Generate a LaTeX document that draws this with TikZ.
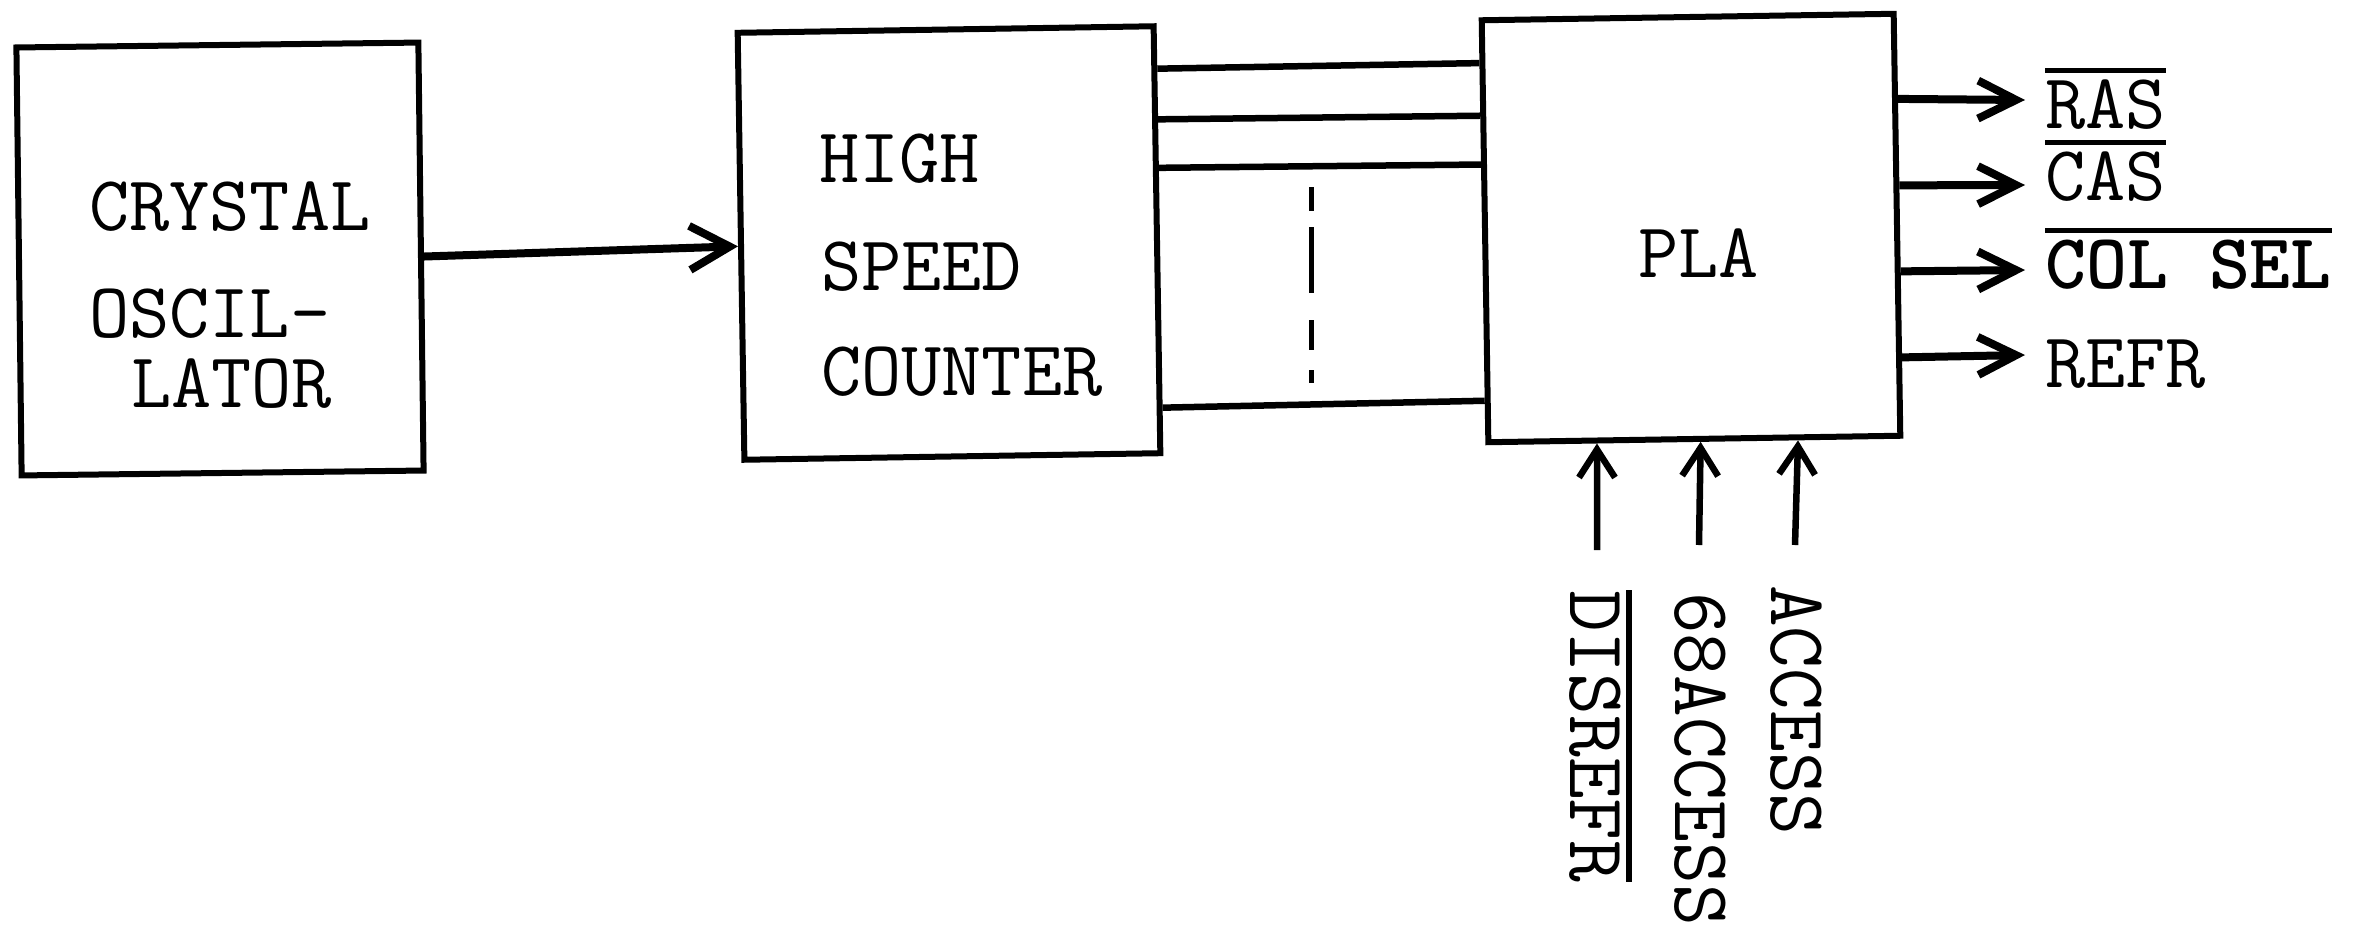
\documentclass[tikz,border=0pt]{standalone}
\usetikzlibrary{arrows.meta,calc}
\newcommand\myovl[1]{\leavevmode\setbox0\hbox{#1}\rlap{\rule[\dimexpr\ht0+6pt\relax]{\wd0}{5.5pt}}\box0}
\begin{document}
\begin{tikzpicture}[x=1pt,y=-1pt,
  box/.style={draw, line width=6pt, rectangle, inner sep=0pt},
  lbl/.style={anchor=base west, inner sep=0pt, font=\fontsize{78}{90}\selectfont\ttfamily},
  vlbl/.style={anchor=base west, inner sep=0pt, rotate=-90, font=\fontsize{81}{90}\selectfont\ttfamily},
  bigarr/.style={line width=8pt, -{Straight Barb[length=40pt,width=44pt]}},
  outarr/.style={line width=8pt, -{Straight Barb[length=38pt,width=38pt]}},
  inarr/.style={line width=6.5pt, -{Straight Barb[length=28pt,width=36pt]}},
  bus/.style={line width=6.5pt}]
\useasboundingbox (0,0) rectangle (2360,935);
% boxes
\node[box, rotate=0.7, minimum width=402pt, minimum height=428pt] (osc) at (220,259) {};
\node[box, rotate=0.9, minimum width=416pt, minimum height=427pt] (cnt) at (949,243) {};
\node[box, rotate=0.9, minimum width=412pt, minimum height=422pt] (pla) at (1691,228) {};
% box texts
\node[lbl] (t1) at (89,230) {CRYSTAL};
\node[lbl] (t2) at (89,337) {OSCIL-};
\node[lbl] (t3) at (131,407) {LATOR};
\node[lbl] (t4) at (819,182) {HIGH};
\node[lbl] (t5) at (821,290) {SPEED};
\node[lbl] (t6) at (821,395) {COUNTER};
\node[lbl] (t7) at (1638,277) {PLA};
% oscillator to counter
\draw[bigarr] (osc.east) -- (cnt.west);
% bus
\foreach \f/\g in {0.105/0.107, 0.222/0.23, 0.334/0.344, 0.888/0.896}
  \draw[bus] ($(cnt.north east)!\f!(cnt.south east)$) -- ($(pla.north west)!\g!(pla.south west)$);
\coordinate (d1) at (1311,187);
\coordinate (d2) at (1311,383);
\draw[line width=5pt, dash pattern=on 24pt off 16pt on 66pt off 27pt on 30pt off 20pt on 13pt off 100pt] (d1) -- (d2);
% outputs
\coordinate (o1) at (2025,100);
\coordinate (o2) at (2025,185);
\coordinate (o3) at (2025,270);
\coordinate (o4) at (2025,355);
\draw[outarr] ($(pla.north east)!0.206!(pla.south east)$) -- (o1);
\draw[outarr] ($(pla.north east)!0.408!(pla.south east)$) -- (o2);
\draw[outarr] ($(pla.north east)!0.609!(pla.south east)$) -- (o3);
\draw[outarr] ($(pla.north east)!0.81!(pla.south east)$) -- (o4);
\node[lbl] (ras) at (2045,128) {\myovl{RAS}};
\node[lbl] (cas) at (2045,200) {\myovl{CAS}};
\node[lbl] (col) at (2045,288) {\myovl{\bfseries COL SEL}};
\node[lbl] (refr) at (2045,387) {REFR};
% inputs
\coordinate (i1) at (1597,550);
\coordinate (i2) at (1699,545);
\coordinate (i3) at (1795,545);
\draw[inarr] (i1) -- ($(pla.south west)!0.267!(pla.south east)$);
\draw[inarr] (i2) -- ($(pla.south west)!0.515!(pla.south east)$);
\draw[inarr] (i3) -- ($(pla.south west)!0.748!(pla.south east)$);
\node[vlbl] (dis) at (1570,590) {\myovl{DISREFR}};
\node[vlbl] (acc68) at (1675,592) {68ACCESS};
\node[vlbl] (acc) at (1771,585) {ACCESS};
\end{tikzpicture}
\end{document}
